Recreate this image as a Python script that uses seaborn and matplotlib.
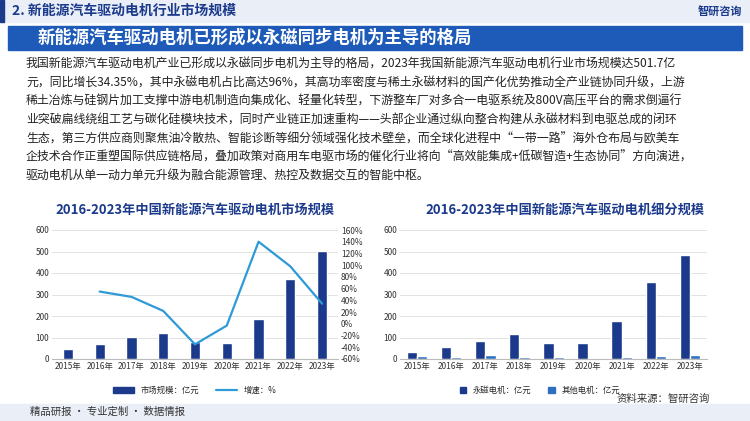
import matplotlib.pyplot as plt
import seaborn as sns
import pandas as pd
from matplotlib.patches import Rectangle
from matplotlib.lines import Line2D

sns.set_style("white")
plt.rcParams['font.family'] = ['Noto Sans CJK SC', 'DejaVu Sans']

years = ["2015年", "2016年", "2017年", "2018年", "2019年", "2020年", "2021年", "2022年", "2023年"]
market = [45, 68, 101, 122, 78, 76, 188, 373, 501.7]
growth = [None, 55, 46, 22, -35, -3, 140, 98, 34.35]
pm_motor = [33, 57, 83, 114, 74, 73, 178, 357, 482]
other_motor = [12, 11, 17, 10, 8, 6, 11, 16, 19]

para = [
    "我国新能源汽车驱动电机产业已形成以永磁同步电机为主导的格局，2023年我国新能源汽车驱动电机行业市场规模达501.7亿",
    "元，同比增长34.35%，其中永磁电机占比高达96%，其高功率密度与稀土永磁材料的国产化优势推动全产业链协同升级，上游",
    "稀土冶炼与硅钢片加工支撑中游电机制造向集成化、轻量化转型，下游整车厂对多合一电驱系统及800V高压平台的需求倒逼行",
    "业突破扁线绕组工艺与碳化硅模块技术，同时产业链正加速重构——头部企业通过纵向整合构建从永磁材料到电驱总成的闭环",
    "生态，第三方供应商则聚焦油冷散热、智能诊断等细分领域强化技术壁垒，而全球化进程中“一带一路”海外仓布局与欧美车",
    "企技术合作正重塑国际供应链格局，叠加政策对商用车电驱市场的催化行业将向“高效能集成+低碳智造+生态协同”方向演进，",
    "驱动电机从单一动力单元升级为融合能源管理、热控及数据交互的智能中枢。",
]

NAVY = "#1b3a8c"
LIGHT = "#2e9ad8"
W, H = 750, 421
fig = plt.figure(figsize=(7.5, 4.21), dpi=100)


def px(x, y):
    return x / W, 1 - y / H


# header
fig.patches.append(Rectangle(px(0, 22), 1, 22 / H, transform=fig.transFigure, color="#e9eef7", zorder=0))
fig.patches.append(Rectangle(px(0, 22), 4 / W, 22 / H, transform=fig.transFigure, color=NAVY, zorder=1))
fig.text(*px(12, 11), "2. 新能源汽车驱动电机行业市场规模", fontsize=10, fontweight="bold", color=NAVY, va="center")
fig.text(*px(742, 11), "智研咨询", fontsize=8, fontweight="bold", color=NAVY, va="center", ha="right")
# banner
fig.patches.append(Rectangle(px(8, 50), 734 / W, 24 / H, transform=fig.transFigure, color="#1e5bb8", zorder=0))
fig.text(*px(38, 38), "新能源汽车驱动电机已形成以永磁同步电机为主导的格局", fontsize=12.5, fontweight="bold", color="white", va="center")
for i, line in enumerate(para):
    fig.text(*px(26, 64 + i * 18.7), line, fontsize=8.6, color="#222222", va="center")

# footer
fig.patches.append(Rectangle((0, 0), 1, 17 / H, transform=fig.transFigure, color="#e9eef7", zorder=0))
fig.text(*px(30, 412), "精品研报 · 专业定制 · 数据情报", fontsize=7.5, color="#333333", va="center")
fig.text(*px(710, 399), "资料来源：智研咨询", fontsize=7.5, color="#333333", va="center", ha="right")

# chart 1
ax1 = fig.add_axes([52 / W, 1 - 359 / H, 286 / W, 129 / H])
df1 = pd.DataFrame({"year": years, "market": market})
sns.barplot(data=df1, x="year", y="market", color=NAVY, width=0.32, ax=ax1, saturation=1)
ax1.set_ylim(0, 600)
ax1.set_yticks(range(0, 601, 100))
ax1.grid(axis="y", color="#dddddd", lw=0.6)
ax1.set_axisbelow(True)
ax2 = ax1.twinx()
gx = [i for i, g in enumerate(growth) if g is not None]
gy = [g for g in growth if g is not None]
sns.lineplot(x=gx, y=gy, color=LIGHT, lw=1.6, ax=ax2)
ax2.set_ylim(-60, 160)
ax2.set_yticks(range(-60, 161, 20))
ax2.set_yticklabels([f"{v}%" for v in range(-60, 161, 20)])
fig.text(*px(195, 210), "2016-2023年中国新能源汽车驱动电机市场规模", fontsize=9.5, fontweight="bold", color=NAVY, ha="center", va="center")
fig.legend(handles=[Rectangle((0, 0), 1, 1, color=NAVY), Line2D([], [], color=LIGHT, lw=1.6)],
           labels=["市场规模：亿元", "增速：%"], loc="center", bbox_to_anchor=px(195, 390), ncol=2,
           frameon=False, fontsize=6, handlelength=2.5, columnspacing=2)

# chart 2
ax3 = fig.add_axes([400 / W, 1 - 359 / H, 307 / W, 129 / H])
df2 = pd.DataFrame({"year": years * 2, "value": pm_motor + other_motor,
                    "kind": ["永磁电机：亿元"] * 9 + ["其他电机：亿元"] * 9})
sns.barplot(data=df2, x="year", y="value", hue="kind", palette=[NAVY, "#2f6fc0"], width=0.6,
            ax=ax3, saturation=1, legend=False)
ax3.set_ylim(0, 600)
ax3.set_yticks(range(0, 601, 100))
ax3.grid(axis="y", color="#dddddd", lw=0.6)
ax3.set_axisbelow(True)
fig.text(*px(565, 210), "2016-2023年中国新能源汽车驱动电机细分规模", fontsize=9.5, fontweight="bold", color=NAVY, ha="center", va="center")
fig.legend(handles=[Rectangle((0, 0), 1, 1, color=NAVY), Rectangle((0, 0), 1, 1, color="#2f6fc0")],
           labels=["永磁电机：亿元", "其他电机：亿元"], loc="center", bbox_to_anchor=px(540, 390), ncol=2,
           frameon=False, fontsize=6, handlelength=0.8, columnspacing=2)

for ax in (ax1, ax2, ax3):
    ax.set_xlabel("")
    ax.set_ylabel("")
    ax.tick_params(labelsize=6, colors="#333333", length=0, pad=2)
    for s in ax.spines.values():
        s.set_visible(False)
for ax in (ax1, ax3):
    ax.spines["bottom"].set_visible(True)
    ax.spines["bottom"].set_color("#bbbbbb")
    ax.set_xlim(-0.5, 8.5)

fig.savefig("out.png", dpi=100)
